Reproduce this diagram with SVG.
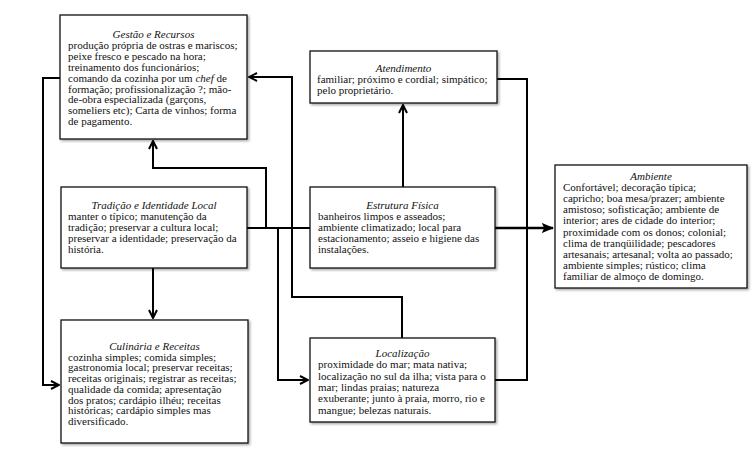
<svg xmlns="http://www.w3.org/2000/svg" width="755" height="456" viewBox="0 0 755 456">
<style>
.box{fill:#fff;stroke:#111;stroke-width:1.3;filter:url(#sh)}
text{font-family:"Liberation Serif","Times New Roman",serif;font-size:11px;fill:#111}
.t{font-style:italic;text-anchor:middle}
.c{fill:none;stroke:#000;stroke-width:2}
</style>
<defs>
<filter id="sh" x="-5%" y="-5%" width="110%" height="115%">
<feDropShadow dx="1.5" dy="1.5" stdDeviation="1" flood-color="#000" flood-opacity="0.35"/>
</filter>
<marker id="ah" viewBox="0 0 10 10" refX="9" refY="5" markerWidth="5" markerHeight="5" orient="auto" markerUnits="strokeWidth">
<path d="M1,1 L9,5 L1,9" fill="none" stroke="#000" stroke-width="2"/>
</marker>
<marker id="af" viewBox="0 0 10 10" refX="9" refY="5" markerWidth="5" markerHeight="5" orient="auto" markerUnits="strokeWidth">
<path d="M0,1 L10,5 L0,9 L2,5 Z" fill="#000"/>
</marker>
</defs>
<rect width="755" height="456" fill="#fff"/>
<g id="connectors">
<path class="c" d="M247 228 H310"/>
<path class="c" d="M266 228 V168 H153 V141" marker-end="url(#ah)"/>
<path class="c" d="M153 268 V318" marker-end="url(#ah)"/>
<path class="c" d="M278 228 V380 H308" marker-end="url(#ah)"/>
<path class="c" d="M403 187 V105" marker-end="url(#ah)"/>
<path class="c" d="M402 338 V297 H292 V77 H249" marker-end="url(#ah)"/>
<path class="c" d="M497 79 H527 V380 H495"/>
<path class="c" style="stroke-width:2.5" d="M495 228 H553" marker-end="url(#af)"/>
<path class="c" d="M60 78 H43 V385 H59" marker-end="url(#ah)"/>
</g>
<g id="gestao">
<rect class="box" x="60" y="15" width="187" height="124"/>
<text class="t" x="153.5" y="38">Gestão e Recursos</text>
<text x="68" y="48.9">produção própria de ostras e mariscos;</text>
<text x="68" y="59.8">peixe fresco e pescado na hora;</text>
<text x="68" y="70.7">treinamento dos funcionários;</text>
<text x="68" y="81.6">comando da cozinha por um <tspan font-style="italic">chef</tspan> de</text>
<text x="68" y="92.5">formação; profissionalização ?;  mão-</text>
<text x="68" y="103.4">de-obra especializada (garçons,</text>
<text x="68" y="114.3">someliers etc); Carta de vinhos; forma</text>
<text x="68" y="125.2">de pagamento.</text>
</g>
<g id="atendimento">
<rect class="box" x="310" y="51" width="187" height="52"/>
<text class="t" x="403.5" y="72">Atendimento</text>
<text x="317" y="82.5">familiar; próximo e cordial; simpático;</text>
<text x="317" y="93.5">pelo proprietário.</text>
</g>
<g id="tradicao">
<rect class="box" x="61" y="187" width="186" height="81"/>
<text class="t" x="154" y="209">Tradição e Identidade Local</text>
<text x="68" y="220">manter o típico;  manutenção da</text>
<text x="68" y="231">tradição;  preservar a cultura local;</text>
<text x="68" y="242">preservar a identidade; preservação da</text>
<text x="68" y="253">história.</text>
</g>
<g id="estrutura">
<rect class="box" x="310" y="187" width="185" height="81"/>
<text class="t" x="402.5" y="209">Estrutura Física</text>
<text x="318" y="220">banheiros limpos e asseados;</text>
<text x="318" y="231">ambiente climatizado; local para</text>
<text x="318" y="242">estacionamento; asseio e higiene das</text>
<text x="318" y="253">instalações.</text>
</g>
<g id="ambiente">
<rect class="box" x="555" y="165" width="192" height="123"/>
<text class="t" x="651" y="180">Ambiente</text>
<text x="563" y="191.1">Confortável; decoração típica;</text>
<text x="563" y="202.2">capricho; boa mesa/prazer; ambiente</text>
<text x="563" y="213.3">amistoso; sofisticação; ambiente de</text>
<text x="563" y="224.4">interior; ares de cidade do interior;</text>
<text x="563" y="235.5">proximidade com os donos; colonial;</text>
<text x="563" y="246.6">clima de tranqüilidade; pescadores</text>
<text x="563" y="257.7">artesanais; artesanal; volta ao passado;</text>
<text x="563" y="268.8">ambiente simples; rústico; clima</text>
<text x="563" y="279.9">familiar de almoço de domingo.</text>
</g>
<g id="culinaria">
<rect class="box" x="61" y="320" width="187" height="123"/>
<text class="t" x="154.5" y="350">Culinária e Receitas</text>
<text x="68" y="360.7">cozinha simples; comida simples;</text>
<text x="68" y="371.4">gastronomia local; preservar receitas;</text>
<text x="68" y="382.1">receitas originais; registrar as receitas;</text>
<text x="68" y="392.8">qualidade da comida; apresentação</text>
<text x="68" y="403.5">dos pratos; cardápio ilhéu; receitas</text>
<text x="68" y="414.2">históricas; cardápio simples mas</text>
<text x="68" y="424.9">diversificado.</text>
</g>
<g id="localizacao">
<rect class="box" x="310" y="338" width="185" height="84"/>
<text class="t" x="402.5" y="357">Localização</text>
<text x="318" y="368.3">proximidade do mar; mata nativa;</text>
<text x="318" y="379.6">localização no sul da ilha; vista para o</text>
<text x="318" y="390.9">mar; lindas praias; natureza</text>
<text x="318" y="402.2">exuberante; junto à praia, morro, rio e</text>
<text x="318" y="413.5">mangue; belezas naturais.</text>
</g>
</svg>
